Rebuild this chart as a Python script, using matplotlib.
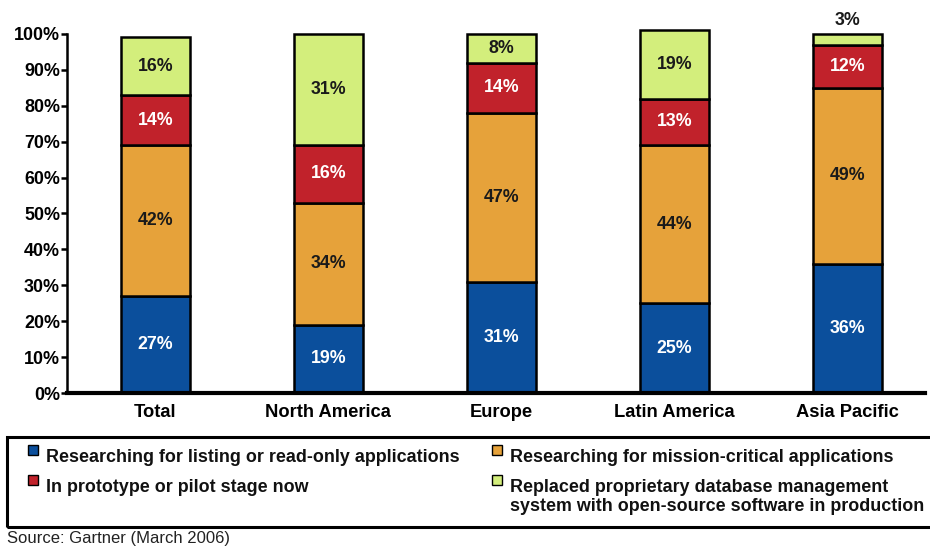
import matplotlib.pyplot as plt
from matplotlib.patches import Rectangle
from matplotlib.lines import Line2D

plt.rcParams['font.family'] = ['Liberation Sans', 'DejaVu Sans']
plt.rcParams['font.weight'] = 'bold'

regions = ["Total", "North America", "Europe", "Latin America", "Asia Pacific"]
listing = [27, 19, 31, 25, 36]
mission = [42, 34, 47, 44, 49]
prototype = [14, 16, 14, 13, 12]
replaced = [16, 31, 8, 19, 3]

series = [
    ("Researching for listing or read-only applications", listing, "#0b4f9c", "white"),
    ("Researching for mission-critical applications", mission, "#e6a23a", "#1a1a1a"),
    ("In prototype or pilot stage now", prototype, "#c1222b", "white"),
    ("Replaced proprietary database management\nsystem with open-source software in production",
     replaced, "#d3ee7c", "#1a1a1a"),
]

fig = plt.figure(figsize=(9.3, 5.46), dpi=100)
ax = fig.add_axes([0.072, 0.280, 0.923, 0.658])

x = list(range(len(regions)))
bottom = [0] * len(regions)
for name, vals, color, tcolor in series:
    ax.bar(x, vals, width=0.40, bottom=bottom, color=color,
           edgecolor="black", linewidth=1.8, zorder=2, clip_on=False)
    for i, v in enumerate(vals):
        if v >= 8:
            ax.text(x[i], bottom[i] + v / 2, f"{v}%", ha="center", va="center",
                    color=tcolor, fontsize=12.8, fontweight="bold")
        else:
            # too thin for an inside label, put it above the bar
            ax.text(x[i], bottom[i] + v + 1.3, f"{v}%", ha="center", va="bottom",
                    color="#1a1a1a", fontsize=12.8, fontweight="bold")
    bottom = [b + v for b, v in zip(bottom, vals)]

ax.set_xlim(-0.51, 4.45)
ax.set_ylim(0, 100)
ax.set_yticks(range(0, 101, 10))
ax.set_yticklabels([f"{t}%" for t in range(0, 101, 10)], fontsize=12.9, fontweight="bold")
ax.set_xticks(x)
ax.set_xticklabels(regions, fontsize=13.2, fontweight="bold")
ax.tick_params(axis="x", length=0, pad=8)
ax.tick_params(axis="y", length=4, width=1.8, pad=1)
for side in ["top", "right"]:
    ax.spines[side].set_visible(False)
ax.spines["left"].set_linewidth(1.8)
ax.spines["bottom"].set_linewidth(3)

# legend: framed box under the plot, two columns of square bullets
fig.patches.append(Rectangle((0.008, 0.035), 1.01, 0.165, transform=fig.transFigure,
                             fill=False, edgecolor="black", linewidth=2.2))

legend_pos = [(0.036, 0.833), (0.534, 0.833), (0.036, 0.888), (0.534, 0.888)]
for (name, vals, color, tcolor), (mx, my) in zip(series, legend_pos):
    yf = 1 - my
    fig.add_artist(Line2D([mx], [yf + 0.008], marker="s", markersize=6.5, linestyle="none",
                          markerfacecolor=color, markeredgecolor="black",
                          markeredgewidth=1, transform=fig.transFigure))
    fig.text(mx + 0.014, yf + 0.010, name, ha="left", va="top", fontsize=12.9,
             fontweight="bold", color="#111111", linespacing=1.1,
             transform=fig.transFigure)

fig.text(0.008, 0.006, "Source: Gartner (March 2006)", fontsize=12,
         fontweight="normal", color="#222222")

fig.savefig("out.png", dpi=100)
